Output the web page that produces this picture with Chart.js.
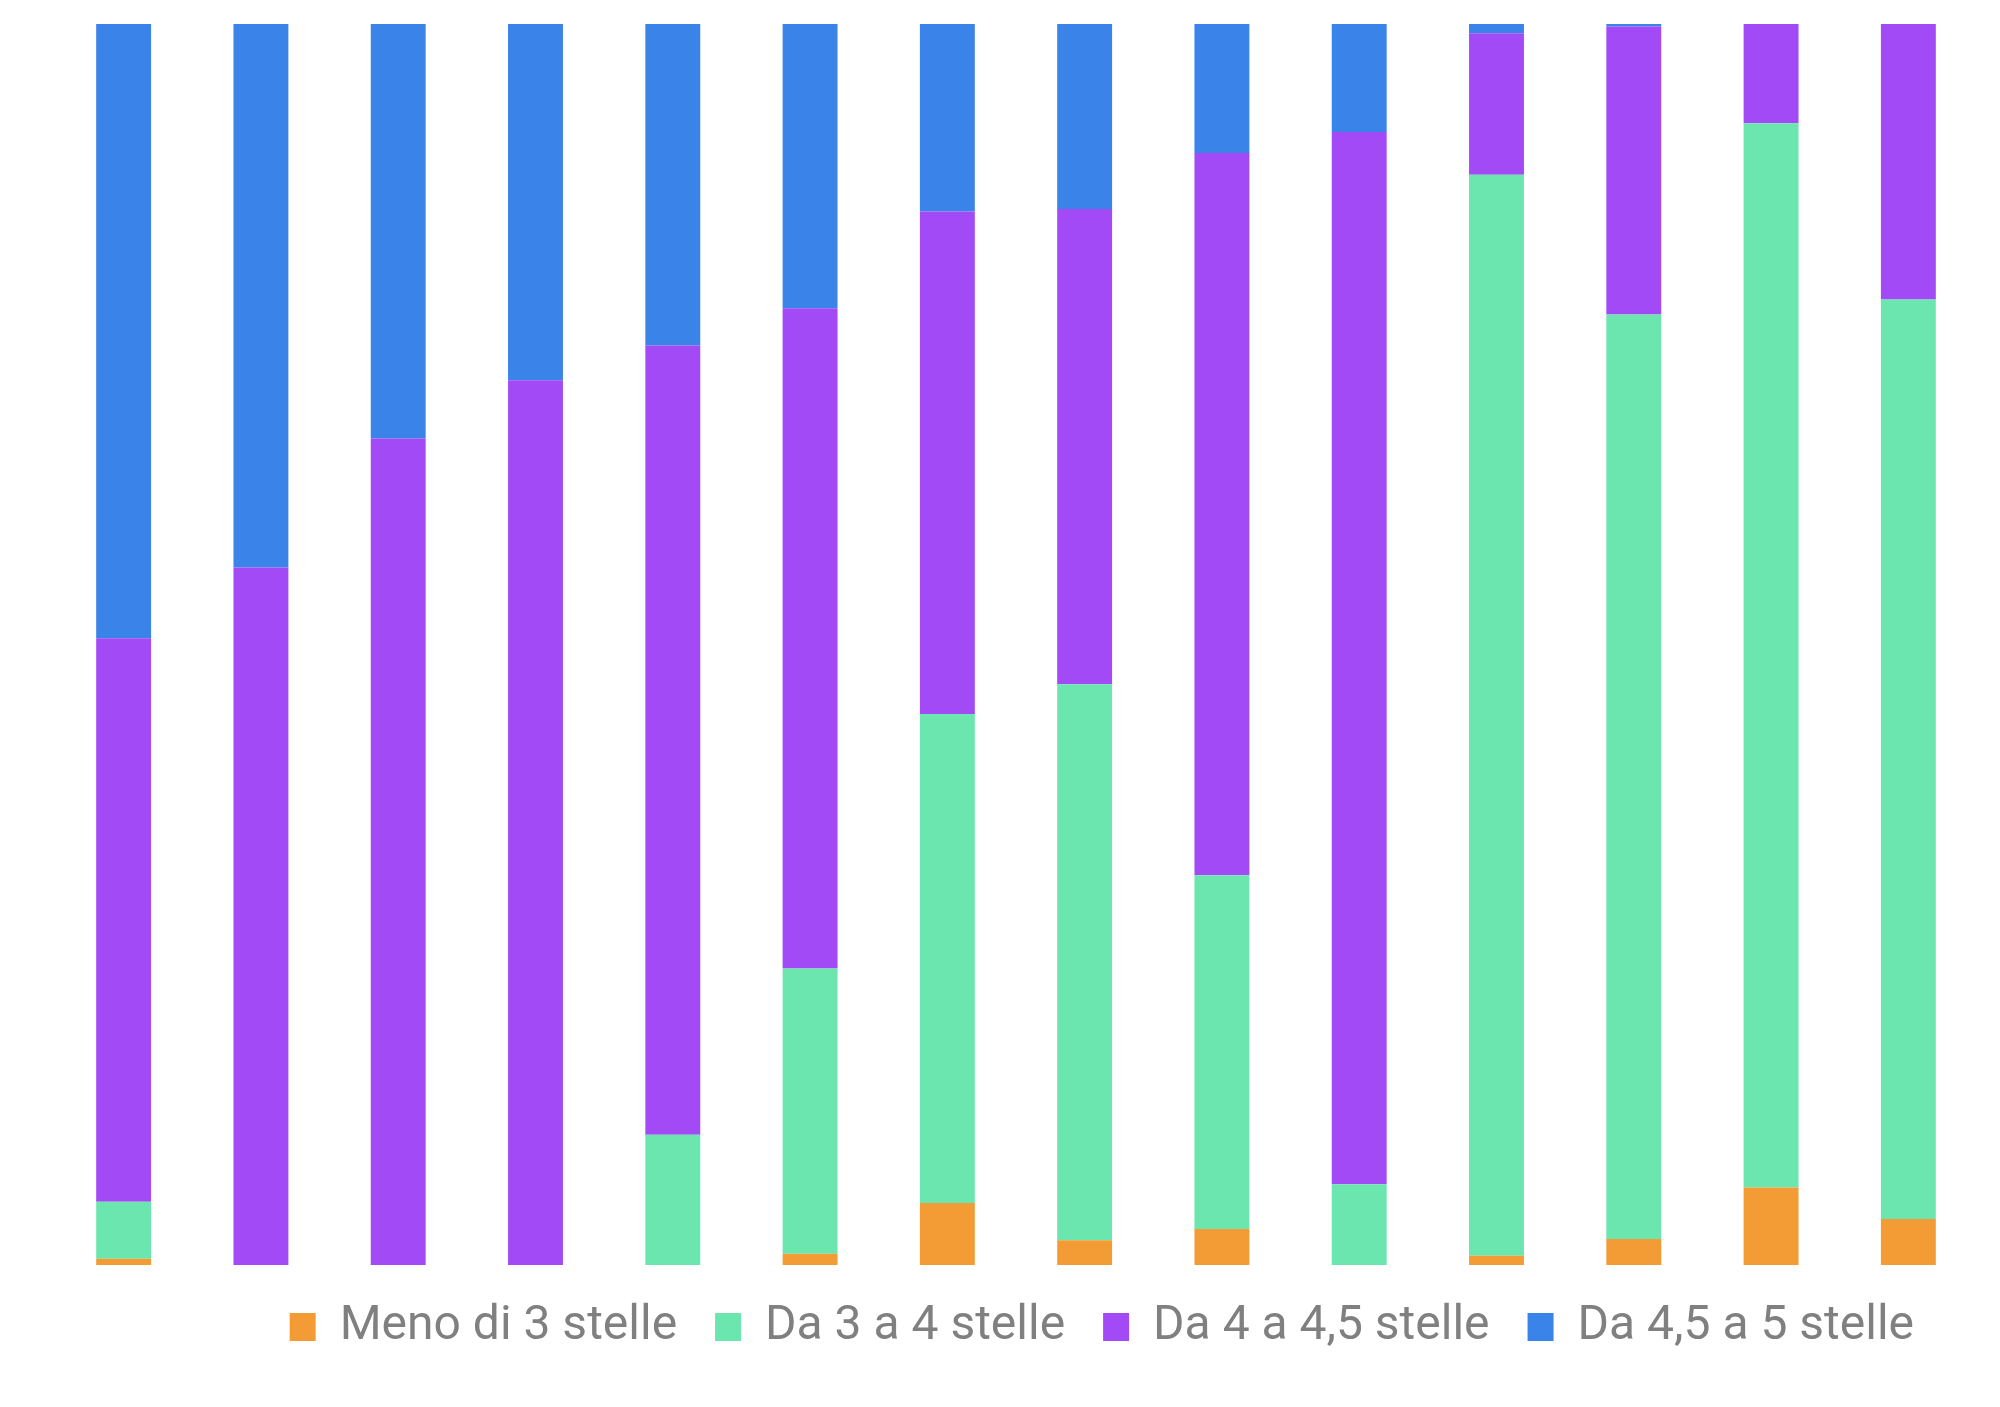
<!DOCTYPE html>
<html>
<head>
<meta charset="utf-8">
<script src="https://cdn.jsdelivr.net/npm/chart.js@4/dist/chart.umd.min.js"></script>
<style>
  html, body { margin: 0; padding: 0; background: #fff; }
  #wrap { width: 2000px; height: 1407px; }
</style>
</head>
<body>
<div id="wrap"><canvas id="chart"></canvas></div>
<script>
// categories (no labels are shown on the chart)
const categories = ['1', '2', '3', '4', '5', '6', '7', '8', '9', '10', '11', '12', '13', '14'];

// share of each bar, percent
const meno3 = [0.5, 0, 0, 0, 0, 0.9, 5.0, 2.0, 2.9, 0, 0.75, 2.1, 6.25, 3.7];
const da3a4 = [4.6, 0, 0, 0, 10.5, 23.0, 39.4, 44.8, 28.5, 6.5, 87.1, 74.5, 85.75, 74.1];
const da4a45 = [45.4, 56.2, 66.6, 71.3, 63.6, 53.2, 40.5, 38.3, 58.2, 84.8, 11.4, 23.2, 8.0, 22.2];
const da45a5 = [49.5, 43.8, 33.4, 28.7, 25.9, 22.9, 15.1, 14.9, 10.4, 8.7, 0.75, 0.2, 0, 0];

const seriesNames = ['Meno di 3 stelle', 'Da 3 a 4 stelle', 'Da 4 a 4,5 stelle', 'Da 4,5 a 5 stelle'];
const colors = ['#F39C36', '#6BE6AF', '#A24AF5', '#3A83E8'];

const series = [meno3, da3a4, da4a45, da45a5];

// legend sits a bit left of the plot's right edge
const legendShift = {
    id: 'legendShift',
    afterLayout(chart) {
        const lg = chart.legend;
        lg.right -= 25;
        lg.width -= 25;
    }
};

const ctx = document.getElementById('chart').getContext('2d');
const chart = new Chart(ctx, {
    type: 'bar',
    data: {
        labels: categories,
        datasets: series.map((vals, i) => ({
            label: seriesNames[i],
            data: vals,
            backgroundColor: colors[i],
            borderWidth: 0,
            barPercentage: 0.4,
            categoryPercentage: 1
        }))
    },
    options: {
        responsive: true,
        maintainAspectRatio: false,
        animation: false,
        layout: {
            padding: { left: 55, right: 23, top: 24, bottom: 46 }
        },
        scales: {
            x: { stacked: true, display: false },
            y: { stacked: true, display: false, min: 0, max: 100 }
        },
        plugins: {
            tooltip: { enabled: false },
            legend: {
                position: 'bottom',
                align: 'end',
                fullSize: false,
                labels: {
                    boxWidth: 26,
                    boxHeight: 28,
                    padding: 38,
                    color: '#808080',
                    font: { family: 'Roboto', size: 48 }
                }
            }
        }
    },
    plugins: [legendShift]
});
</script>
</body>
</html>
